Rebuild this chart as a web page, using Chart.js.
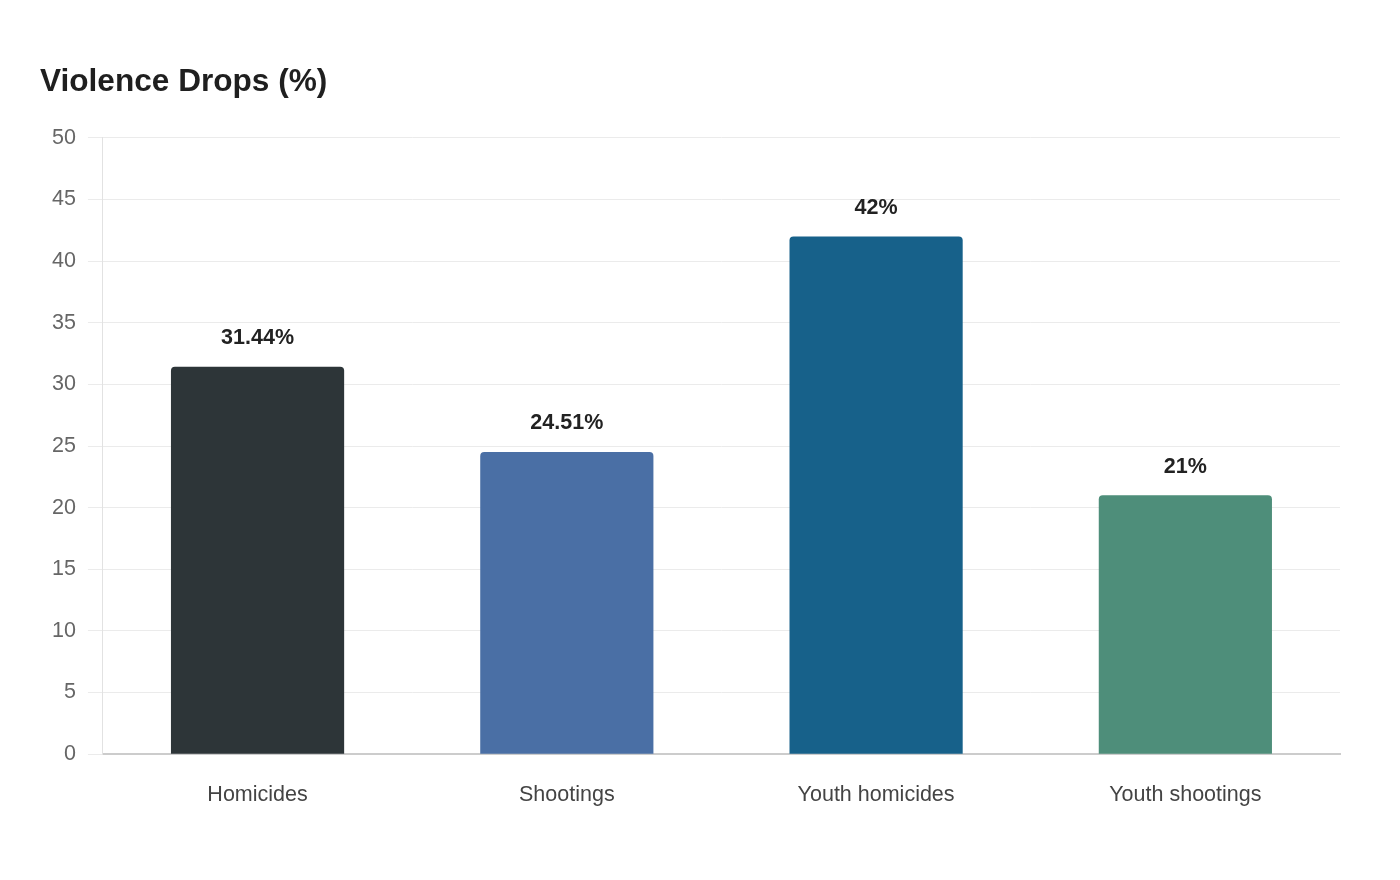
<!DOCTYPE html>
<html lang="en">
<head>
  <meta charset="UTF-8">
  <title>Violence Drops (%)</title>
  <script src="https://cdn.jsdelivr.net/npm/chart.js"></script>
  <style>
    html, body { margin: 0; padding: 0; background: #fff; }
    #wrap { width: 1400px; height: 880px; }
  </style>
</head>
<body>
  <div id="wrap"><canvas id="dropChart"></canvas></div>

  <script>
    const categories = ["Homicides", "Shootings", "Youth homicides", "Youth shootings"];
    const dropValues = [31.44, 24.51, 42, 21];
    const valueLabels = ["31.44%", "24.51%", "42%", "21%"];
    const barColors = ["#2d3538", "#4a6fa5", "#17618a", "#4e8e7a"];

    const fontStack = "Arial, 'Liberation Sans', Helvetica, sans-serif";
    Chart.defaults.font.family = fontStack;

    // draws the percentage above each bar
    const valueLabelPlugin = {
      id: 'valueLabels',
      afterDatasetsDraw(chart) {
        const ctx = chart.ctx;
        const meta = chart.getDatasetMeta(0);
        ctx.save();
        ctx.font = "bold 21.5px " + fontStack;
        ctx.fillStyle = '#222';
        ctx.textAlign = 'center';
        ctx.textBaseline = 'bottom';
        meta.data.forEach((bar, i) => {
          ctx.fillText(valueLabels[i], bar.x, bar.y - 18);
        });
        ctx.restore();
      }
    };

    new Chart(document.getElementById('dropChart'), {
      type: 'bar',
      data: {
        labels: categories,
        datasets: [{
          label: 'Violence Drops (%)',
          data: dropValues,
          backgroundColor: barColors,
          borderRadius: 4,
          barPercentage: 0.7,
          categoryPercentage: 0.8
        }]
      },
      options: {
        responsive: true,
        maintainAspectRatio: false,
        animation: false,
        layout: { padding: { left: 40, right: 60, top: 63, bottom: 52 } },
        plugins: {
          legend: { display: false },
          tooltip: { enabled: false },
          title: {
            display: true,
            text: 'Violence Drops (%)',
            align: 'start',
            color: '#1f1f1f',
            font: { size: 31.6, weight: 'bold' },
            padding: { top: 0, bottom: 37 }
          }
        },
        scales: {
          x: {
            grid: { display: false },
            border: { display: true, color: '#cccccc', width: 2 },
            ticks: { color: '#444', font: { size: 21.5 }, padding: 20 }
          },
          y: {
            min: 0,
            max: 50,
            ticks: { stepSize: 5, color: '#666', font: { size: 21.5 }, padding: 12 },
            grid: { color: '#ebebeb', tickLength: 15 },
            border: { display: true, color: '#e2e2e2' }
          }
        }
      },
      plugins: [valueLabelPlugin]
    });
  </script>
</body>
</html>
